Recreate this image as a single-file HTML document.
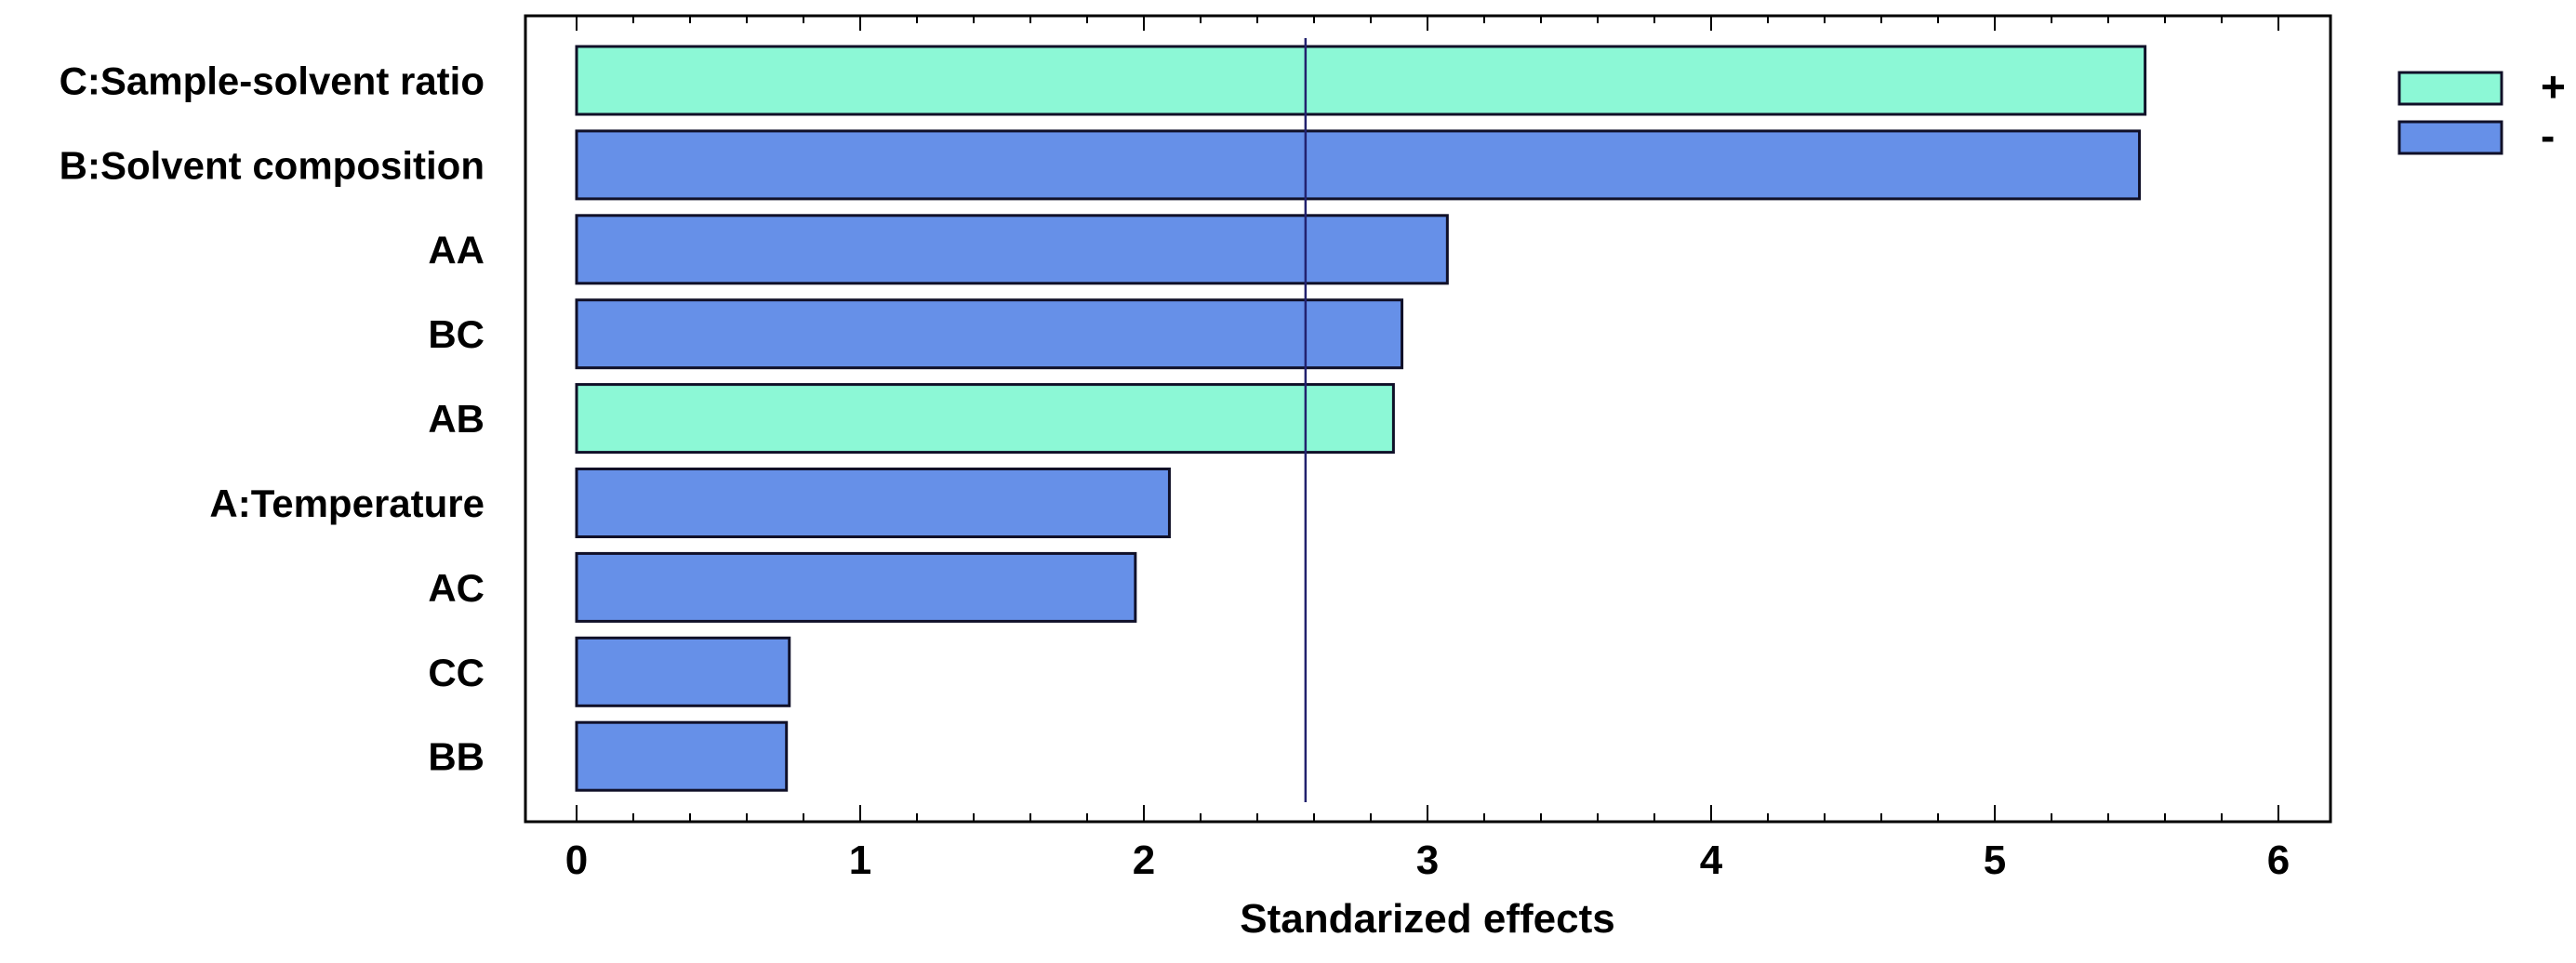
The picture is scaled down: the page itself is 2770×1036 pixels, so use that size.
<!DOCTYPE html>
<html><head><meta charset="utf-8"><style>
html,body{margin:0;padding:0;background:#fff;}
svg{display:block;font-family:"Liberation Sans",Arial,sans-serif;font-weight:bold;}
</style></head><body>
<svg id="chart" width="2770" height="1036" viewBox="0 0 2770 1036" xmlns="http://www.w3.org/2000/svg">
<rect x="0" y="0" width="2770" height="1036" fill="#fff"/>
<g id="plot"></g>
</svg>
<script>
const categories = ["C:Sample-solvent ratio","B:Solvent composition","AA","BC","AB","A:Temperature","AC","CC","BB"];
const effects = [5.53, 5.51, 3.07, 2.91, 2.88, 2.09, 1.97, 0.75, 0.74];
const signs = ["+","-","-","-","+","-","-","-","-"];
const xTicks = [0,1,2,3,4,5,6];
const critical = [2.57];

const NS="http://www.w3.org/2000/svg";
const g=document.getElementById('plot');
const L=565,R=2506,T=17,B=884;
const x0=620, unit=305;
const xs=v=>x0+v*unit;
const bandTop=50, pitch=90.9, barH=73;
const ys=i=>bandTop+i*pitch;
const colors={"+":"#8cf8d6","-":"#6690e8"};
function mk(tag,attrs){const e=document.createElementNS(NS,tag);for(const k in attrs)e.setAttribute(k,attrs[k]);g.appendChild(e);return e;}

let fr=mk('rect',{x:L,y:T,width:R-L,height:B-T,fill:'none',stroke:'#000','stroke-width':3});



for(let k=0;k<=30;k++){
  const v=k*0.2;const x=xs(v);const major=k%5===0;
  const len=major?18:9;
  let t1=mk('line',{x1:x,x2:x,y1:B,y2:B-len,stroke:'#000','stroke-width':2});
  
  
  let t2=mk('line',{x1:x,x2:x,y1:T,y2:T+(major?16:8),stroke:'#000','stroke-width':2});
  
  
}
xTicks.forEach(v=>{
  const t=mk('text',{x:xs(v),y:940,'font-size':44,'text-anchor':'middle',fill:'#000'});
  t.textContent=v;
  
  
});
const title=mk('text',{x:xs(3),y:1003,'font-size':44,'text-anchor':'middle',fill:'#000'});
title.textContent='Standarized effects';



categories.forEach((c,i)=>{
  const y=ys(i);
  const r=mk('rect',{x:xs(0),y:y,width:xs(effects[i])-xs(0),height:barH,fill:colors[signs[i]],stroke:'#101028','stroke-width':3});
  
  
  const t=mk('text',{x:521,y:y+barH/2+15,'font-size':42,'text-anchor':'end',fill:'#000'});
  t.textContent=c;
  
  
});

const cl=mk('line',{x1:xs(critical[0]),x2:xs(critical[0]),y1:41,y2:863,stroke:'#22226e','stroke-width':2.5});



[["+",78],["-",131]].forEach(([s,y])=>{
  const r=mk('rect',{x:2580,y:y,width:110,height:34,fill:colors[s],stroke:'#101028','stroke-width':3});
  
  
  const t=mk('text',{x:2732,y:y+31,'font-size':46,fill:'#000'});
  t.textContent=s;
  
  
});
</script>
</body></html>
